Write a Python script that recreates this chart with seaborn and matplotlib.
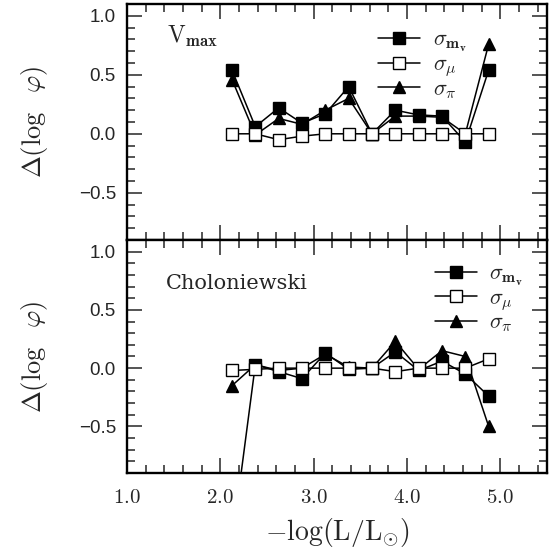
import numpy as np
import matplotlib
matplotlib.use("Agg")
import matplotlib.pyplot as plt
import seaborn as sns
from matplotlib.ticker import MultipleLocator, FixedLocator, FixedFormatter

# ---------------- data ----------------
logL = [2.125, 2.375, 2.625, 2.875, 3.125, 3.375, 3.625, 3.875, 4.125, 4.375, 4.625, 4.875]

vmax_sig_mv = [0.54, 0.06, 0.22, 0.09, 0.17, 0.40, 0.00, 0.20, 0.16, 0.15, -0.07, 0.54]
vmax_sig_mu = [0.00, 0.00, -0.05, -0.02, 0.00, 0.00, 0.00, 0.00, 0.00, 0.00, 0.00, 0.00]
vmax_sig_pi = [0.46, -0.01, 0.13, 0.08, 0.20, 0.30, 0.00, 0.15, 0.15, 0.14, 0.00, 0.76]

chol_sig_mv = [-1.50, 0.03, -0.03, -0.09, 0.13, -0.01, 0.00, 0.14, -0.02, 0.06, -0.05, -0.24]
chol_sig_mu = [-0.02, -0.01, 0.00, 0.00, 0.00, 0.00, 0.00, -0.03, 0.00, 0.00, 0.00, 0.08]
chol_sig_pi = [-0.15, 0.03, -0.02, 0.00, 0.12, 0.01, 0.00, 0.23, -0.01, 0.15, 0.10, -0.50]

series_labels = [r'$\sigma_{\mathbf{m}_{\mathbf{v}}}$', r'$\sigma_{\mu}$', r'$\sigma_{\pi}$']
panel_titles = [r'$\mathrm{V}_{\mathbf{max}}$', 'Choloniewski']
xticks = [1.0, 2.0, 3.0, 4.0, 5.0]
yticks = [-0.5, 0.0, 0.5, 1.0]

# ---------------- style ----------------
sns.set_style("ticks")
plt.rcParams['font.family'] = ['Liberation Sans', 'DejaVu Sans']
plt.rcParams['mathtext.fontset'] = 'cm'
plt.rcParams['axes.unicode_minus'] = True

fig = plt.figure(figsize=(5.49, 5.53), dpi=100)
W, H = 549.0, 553.0
left, right = 127 / W, 547 / W
ax_top = fig.add_axes([left, 1 - 240 / H, right - left, 236 / H])
ax_bot = fig.add_axes([left, 1 - 473 / H, right - left, 233 / H])

panels = [
    (ax_top, vmax_sig_mv, vmax_sig_mu, vmax_sig_pi, (0.598, 0.89)),
    (ax_bot, chol_sig_mv, chol_sig_mu, chol_sig_pi, (0.733, 0.90)),
]

for i, (ax, mv, mu, pi, legpos) in enumerate(panels):
    common = dict(color='black', lw=1.1, markeredgecolor='black', markeredgewidth=1.0,
                  markersize=8, ax=ax, sort=False)
    sns.lineplot(x=logL, y=mv, marker='s', markerfacecolor='black', label=series_labels[0], zorder=3, **common)
    sns.lineplot(x=logL, y=mu, marker='s', markerfacecolor='white', label=series_labels[1], zorder=4, **common)
    sns.lineplot(x=logL, y=pi, marker='^', markerfacecolor='black', label=series_labels[2], zorder=3, **common)

    ax.set_xlim(1.0, 5.5)
    ax.set_ylim(-0.9, 1.1)
    ax.xaxis.set_major_locator(FixedLocator(xticks))
    ax.xaxis.set_minor_locator(MultipleLocator(0.2))
    ax.yaxis.set_major_locator(FixedLocator(yticks))
    ax.yaxis.set_minor_locator(MultipleLocator(0.1))
    ax.tick_params(which='both', direction='in', top=True, right=True, bottom=True, left=True, width=1.1)
    ax.tick_params(which='major', length=11)
    ax.tick_params(which='minor', length=5.5)
    ax.tick_params(axis='y', labelsize=13.5, pad=8)
    for sp in ax.spines.values():
        sp.set_linewidth(1.7)
        sp.set_color('black')
    ax.set_yticklabels(['\u22120.5', '0.0', '0.5', '1.0'])
    ax.set_ylabel(r'$\Delta(\log\ \ \varphi)$', fontsize=19)
    ax.yaxis.set_label_coords(-0.183, 0.5)
    ax.set_xlabel('')

    handles, labels = ax.get_legend_handles_labels()
    ax.legend(handles, labels, loc='upper left', bbox_to_anchor=legpos, frameon=False,
              fontsize=16, handlelength=1.9, handletextpad=0.55, labelspacing=0.0,
              borderpad=0, borderaxespad=0)

ax_top.tick_params(axis='x', labelbottom=False)
ax_bot.tick_params(axis='x', labelsize=15, pad=11)
ax_bot.xaxis.set_major_formatter(FixedFormatter([r'$\mathrm{%.1f}$' % v for v in xticks]))
ax_bot.set_xlabel(r'$-\log(\mathrm{L}/\mathrm{L}_{\odot})$', fontsize=20, labelpad=6)

ax_top.text(0.095, 0.835, panel_titles[0], transform=ax_top.transAxes, fontsize=17,
            ha='left', va='baseline')
ax_bot.text(0.093, 0.79, panel_titles[1], transform=ax_bot.transAxes, fontsize=15,
            family='DejaVu Serif', ha='left', va='baseline')

fig.savefig('out.png', dpi=100)
